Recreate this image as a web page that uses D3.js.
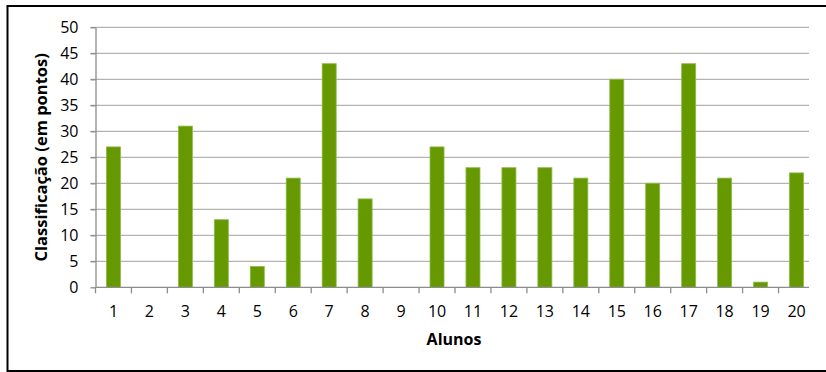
<!DOCTYPE html>
<html>
<head>
<meta charset="utf-8">
<script src="https://cdn.jsdelivr.net/npm/d3@7"></script>
<style>
  body { margin: 0; background: #fff; }
  svg text { font-family: "Open Sans", "DejaVu Sans", sans-serif; fill: #000; }
  .grid line { stroke: #b3b3b3; stroke-width: 1.3; }
  .axis path, .axis line { stroke: #8c8c8c; stroke-width: 1.3; }
</style>
</head>
<body>
<script>
var alunos = ["1","2","3","4","5","6","7","8","9","10","11","12","13","14","15","16","17","18","19","20"];
var pontos = [27, 0, 31, 13, 4, 21, 43, 17, 0, 27, 23, 23, 23, 21, 40, 20, 43, 21, 1, 22];
var yTicks = [0, 5, 10, 15, 20, 25, 30, 35, 40, 45, 50];

var width = 826;
var height = 372;
var margin = {left: 95.5, right: 11, top: 27.3, bottom: 84.7};

var svg = d3.select("body")
  .append("svg")
  .attr("width", width)
  .attr("height", height);

// outer frame (right edge is cropped off in the original)
svg.append("path")
  .attr("d", "M" + (width + 5) + ",6 L7.5,6 L7.5,371 L" + (width + 5) + ",371")
  .attr("fill", "none")
  .attr("stroke", "#000")
  .attr("stroke-width", 2);

var x = d3.scaleBand()
  .domain(alunos)
  .range([margin.left, margin.left + 20 * 35.95])
  .paddingInner(0.61)
  .paddingOuter(0.305);

var y = d3.scaleLinear()
  .domain([0, 50])
  .range([height - margin.bottom, margin.top]);

var gridRight = 809;

svg.append("g")
  .attr("class", "grid")
  .selectAll("line")
  .data(yTicks.slice(1))
  .enter()
  .append("line")
  .attr("x1", margin.left - 5)
  .attr("x2", gridRight)
  .attr("y1", function(d) { return y(d); })
  .attr("y2", function(d) { return y(d); });

// y axis
var yAxis = svg.append("g")
  .attr("class", "axis")
  .attr("transform", "translate(" + margin.left + ",0)")
  .call(d3.axisLeft(y).tickValues(yTicks).tickSize(5).tickSizeOuter(0).tickPadding(12));
yAxis.selectAll("text").style("font-size", "16px");

// bars
svg.append("g")
  .selectAll("rect")
  .data(pontos)
  .enter()
  .append("rect")
  .attr("x", function(d, i) { return x(alunos[i]); })
  .attr("width", x.bandwidth())
  .attr("y", function(d) { return y(d); })
  .attr("height", function(d) { return y(0) - y(d); })
  .attr("fill", "#669900")
  .attr("stroke", "#8fba4a")
  .attr("stroke-width", 0.8)
  .style("display", function(d) { return d > 0 ? null : "none"; });

// x axis: baseline + ticks at band boundaries
var xAxisG = svg.append("g")
  .attr("class", "axis");
xAxisG.append("line")
  .attr("x1", margin.left)
  .attr("x2", gridRight)
  .attr("y1", y(0))
  .attr("y2", y(0));
xAxisG.selectAll(".tk")
  .data(alunos)
  .enter()
  .append("line")
  .attr("class", "tk")
  .attr("x1", function(d) { return x(d) - x.step() * 0.305; })
  .attr("x2", function(d) { return x(d) - x.step() * 0.305; })
  .attr("y1", y(0))
  .attr("y2", y(0) + 6);
xAxisG.selectAll("text")
  .data(alunos)
  .enter()
  .append("text")
  .attr("x", function(d) { return x(d) + x.bandwidth() / 2; })
  .attr("y", 317)
  .attr("text-anchor", "middle")
  .style("font-size", "16px")
  .text(function(d) { return d; });

// axis titles
svg.append("text")
  .attr("x", 454)
  .attr("y", 345)
  .attr("text-anchor", "middle")
  .style("font-size", "16px")
  .style("font-weight", "bold")
  .text("Alunos");

svg.append("text")
  .attr("transform", "translate(47," + ((y(0) + y(50)) / 2) + ") rotate(-90)")
  .attr("text-anchor", "middle")
  .style("font-size", "16.5px")
  .style("font-weight", "bold")
  .text("Classificação (em pontos)");
</script>
</body>
</html>
